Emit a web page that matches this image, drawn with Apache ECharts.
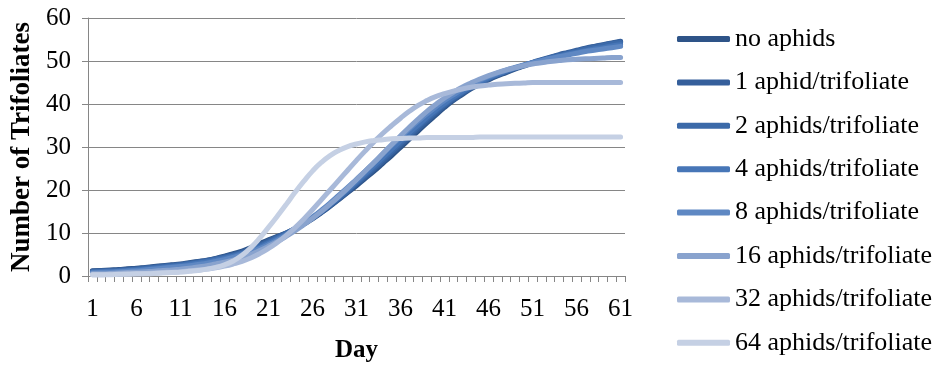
<!DOCTYPE html>
<html>
<head>
<meta charset="utf-8">
<script src="https://cdn.jsdelivr.net/npm/echarts@6/dist/echarts.min.js"></script>
<style>html,body{margin:0;padding:0;background:#fff}#c{width:935px;height:368px}</style>
</head>
<body>
<div id="c"></div>
<script>
const days = ["1","2","3","4","5","6","7","8","9","10","11","12","13","14","15","16","17","18","19","20","21","22","23","24","25","26","27","28","29","30","31","32","33","34","35","36","37","38","39","40","41","42","43","44","45","46","47","48","49","50","51","52","53","54","55","56","57","58","59","60","61"];
const seriesNames = ["no aphids","1 aphid/trifoliate","2 aphids/trifoliate","4 aphids/trifoliate","8 aphids/trifoliate","16 aphids/trifoliate","32 aphids/trifoliate","64 aphids/trifoliate"];
const yTicks = [0,10,20,30,40,50,60];

const noAphids = [1.2,1.3,1.4,1.5,1.7,1.8,2.0,2.2,2.4,2.6,
  2.8,3.1,3.4,3.7,4.1,4.6,5.2,5.8,6.6,7.5,
  8.4,9.2,10.0,10.9,12.0,13.3,14.7,16.2,17.8,19.4,
  21.0,22.7,24.4,26.2,28.0,29.9,31.8,33.7,35.6,37.4,
  39.2,40.8,42.2,43.5,44.6,45.6,46.5,47.3,48.1,48.8,
  49.5,50.1,50.7,51.3,51.8,52.3,52.8,53.3,53.7,54.1,54.5];
const aphid1 = [1.1,1.2,1.3,1.4,1.6,1.7,1.9,2.1,2.3,2.5,
  2.7,3.0,3.3,3.6,4.0,4.5,5.0,5.6,6.4,7.3,
  8.2,9.1,10.0,11.0,12.1,13.4,14.8,16.3,17.9,19.6,
  21.3,23.0,24.8,26.6,28.5,30.4,32.3,34.2,36.0,37.8,
  39.5,41.0,42.4,43.7,44.8,45.8,46.7,47.5,48.3,49.0,
  49.7,50.3,50.9,51.5,52.0,52.5,53.0,53.4,53.8,54.2,54.6];
const aphids2 = [1.0,1.1,1.2,1.3,1.4,1.6,1.8,2.0,2.2,2.4,
  2.6,2.9,3.2,3.5,3.9,4.3,4.8,5.4,6.1,7.0,
  7.9,8.9,9.9,11.0,12.2,13.5,14.9,16.5,18.1,19.8,
  21.6,23.4,25.2,27.1,29.0,30.9,32.8,34.7,36.5,38.2,
  39.8,41.3,42.6,43.8,44.9,45.9,46.8,47.6,48.3,49.0,
  49.6,50.2,50.8,51.3,51.8,52.3,52.8,53.2,53.6,54.0,54.3];
const aphids4 = [0.9,1.0,1.0,1.1,1.3,1.4,1.6,1.8,2.0,2.2,
  2.4,2.7,3.0,3.3,3.7,4.1,4.6,5.2,5.9,6.7,
  7.6,8.6,9.7,10.9,12.2,13.6,15.1,16.7,18.4,20.1,
  21.9,23.8,25.7,27.6,29.5,31.4,33.3,35.1,36.9,38.6,
  40.1,41.6,42.9,44.1,45.1,46.1,46.9,47.7,48.4,49.0,
  49.6,50.1,50.6,51.1,51.6,52.0,52.4,52.8,53.1,53.5,53.8];
const aphids8 = [0.7,0.8,0.9,1.0,1.1,1.2,1.4,1.6,1.8,2.0,
  2.2,2.4,2.7,3.0,3.4,3.8,4.3,4.9,5.6,6.4,
  7.3,8.3,9.5,10.8,12.2,13.7,15.3,17.0,18.8,20.6,
  22.5,24.4,26.4,28.4,30.4,32.3,34.2,36.0,37.7,39.3,
  40.8,42.1,43.4,44.5,45.5,46.4,47.2,47.9,48.5,49.1,
  49.6,50.1,50.6,51.0,51.4,51.8,52.2,52.5,52.8,53.1,53.4];
const aphids16 = [0.5,0.5,0.6,0.7,0.8,0.9,1.0,1.1,1.3,1.4,
  1.6,1.8,2.1,2.4,2.8,3.2,3.7,4.3,5.0,5.9,
  6.9,8.0,9.2,10.5,11.9,13.4,15.0,16.7,18.5,20.4,
  22.4,24.4,26.4,28.5,30.6,32.6,34.6,36.5,38.3,39.9,
  41.4,42.7,43.9,44.9,45.8,46.6,47.3,47.9,48.4,48.9,
  49.3,49.6,49.9,50.1,50.3,50.4,50.5,50.6,50.7,50.8,50.8];
const aphids32 = [0.3,0.3,0.4,0.4,0.5,0.5,0.6,0.7,0.8,0.9,
  1.0,1.2,1.4,1.6,1.9,2.3,2.8,3.4,4.2,5.2,
  6.4,7.8,9.4,11.2,13.2,15.4,17.7,20.0,22.3,24.6,
  26.9,29.1,31.2,33.2,35.0,36.7,38.3,39.7,40.8,41.7,
  42.4,43.0,43.5,43.9,44.2,44.4,44.6,44.7,44.8,44.9,
  45.0,45.0,45.0,45.0,45.0,45.0,45.0,45.0,45.0,45.0,45.0];
const aphids64 = [0.3,0.3,0.3,0.4,0.4,0.5,0.5,0.6,0.7,0.8,
  0.9,1.1,1.3,1.6,2.0,2.6,3.5,4.8,6.6,8.8,
  11.3,13.9,16.6,19.4,22.0,24.4,26.4,28.0,29.2,30.1,
  30.7,31.2,31.5,31.7,31.9,32.0,32.1,32.1,32.2,32.2,
  32.2,32.2,32.2,32.2,32.3,32.3,32.3,32.3,32.3,32.3,
  32.3,32.3,32.3,32.3,32.3,32.3,32.3,32.3,32.3,32.3,32.3];

const allData = [noAphids, aphid1, aphids2, aphids4, aphids8, aphids16, aphids32, aphids64];
const colors = ["#2E5488","#355F9B","#3C6AA9","#4776B7","#5F88C3","#89A3CE","#A8B9D9","#C5D0E4"];

const FONT = "'Liberation Serif','Times New Roman',serif";
const chart = echarts.init(document.getElementById('c'), null, {renderer: 'canvas'});
chart.setOption({
  animation: false,
  color: colors,
  textStyle: {fontFamily: FONT, color: '#000'},
  grid: {left: 88, right: 310, top: 18, bottom: 88, containLabel: false},
  legend: {
    orient: 'vertical', left: 672, top: 21,
    itemWidth: 53, itemHeight: 6, itemGap: 17.4,
    icon: 'roundRect',
    data: seriesNames,
    textStyle: {fontFamily: FONT, fontSize: 26, color: '#000', lineHeight: 26}
  },
  xAxis: {
    type: 'category', data: days, boundaryGap: true,
    name: 'Day', nameLocation: 'middle', nameGap: 62,
    nameTextStyle: {fontFamily: FONT, fontSize: 25, fontWeight: 'bold', color: '#000'},
    axisLine: {lineStyle: {color: '#868686', width: 1}},
    axisTick: {show: true, interval: 0, length: 6, lineStyle: {color: '#868686'}},
    axisLabel: {interval: 4, margin: 21, fontFamily: FONT, fontSize: 25, color: '#000'},
    splitLine: {show: false}
  },
  yAxis: {
    type: 'value', min: yTicks[0], max: yTicks[yTicks.length-1], interval: 10,
    name: 'Number of Trifoliates', nameLocation: 'middle', nameGap: 50,
    nameTextStyle: {fontFamily: FONT, fontSize: 27, fontWeight: 'bold', color: '#000'},
    axisLine: {show: true, lineStyle: {color: '#868686', width: 1}},
    axisTick: {show: true, length: 6, lineStyle: {color: '#868686'}},
    axisLabel: {margin: 17, fontFamily: FONT, fontSize: 25, color: '#000'},
    splitLine: {show: true, lineStyle: {color: '#868686', width: 1}}
  },
  series: seriesNames.map((n, i) => ({
    name: n, type: 'line', data: allData[i], smooth: true,
    showSymbol: false, symbol: 'none',
    lineStyle: {width: 5, color: colors[i], cap: 'round', join: 'round'},
    itemStyle: {color: colors[i]},
    emphasis: {disabled: true}
  }))
});
</script>
</body>
</html>
